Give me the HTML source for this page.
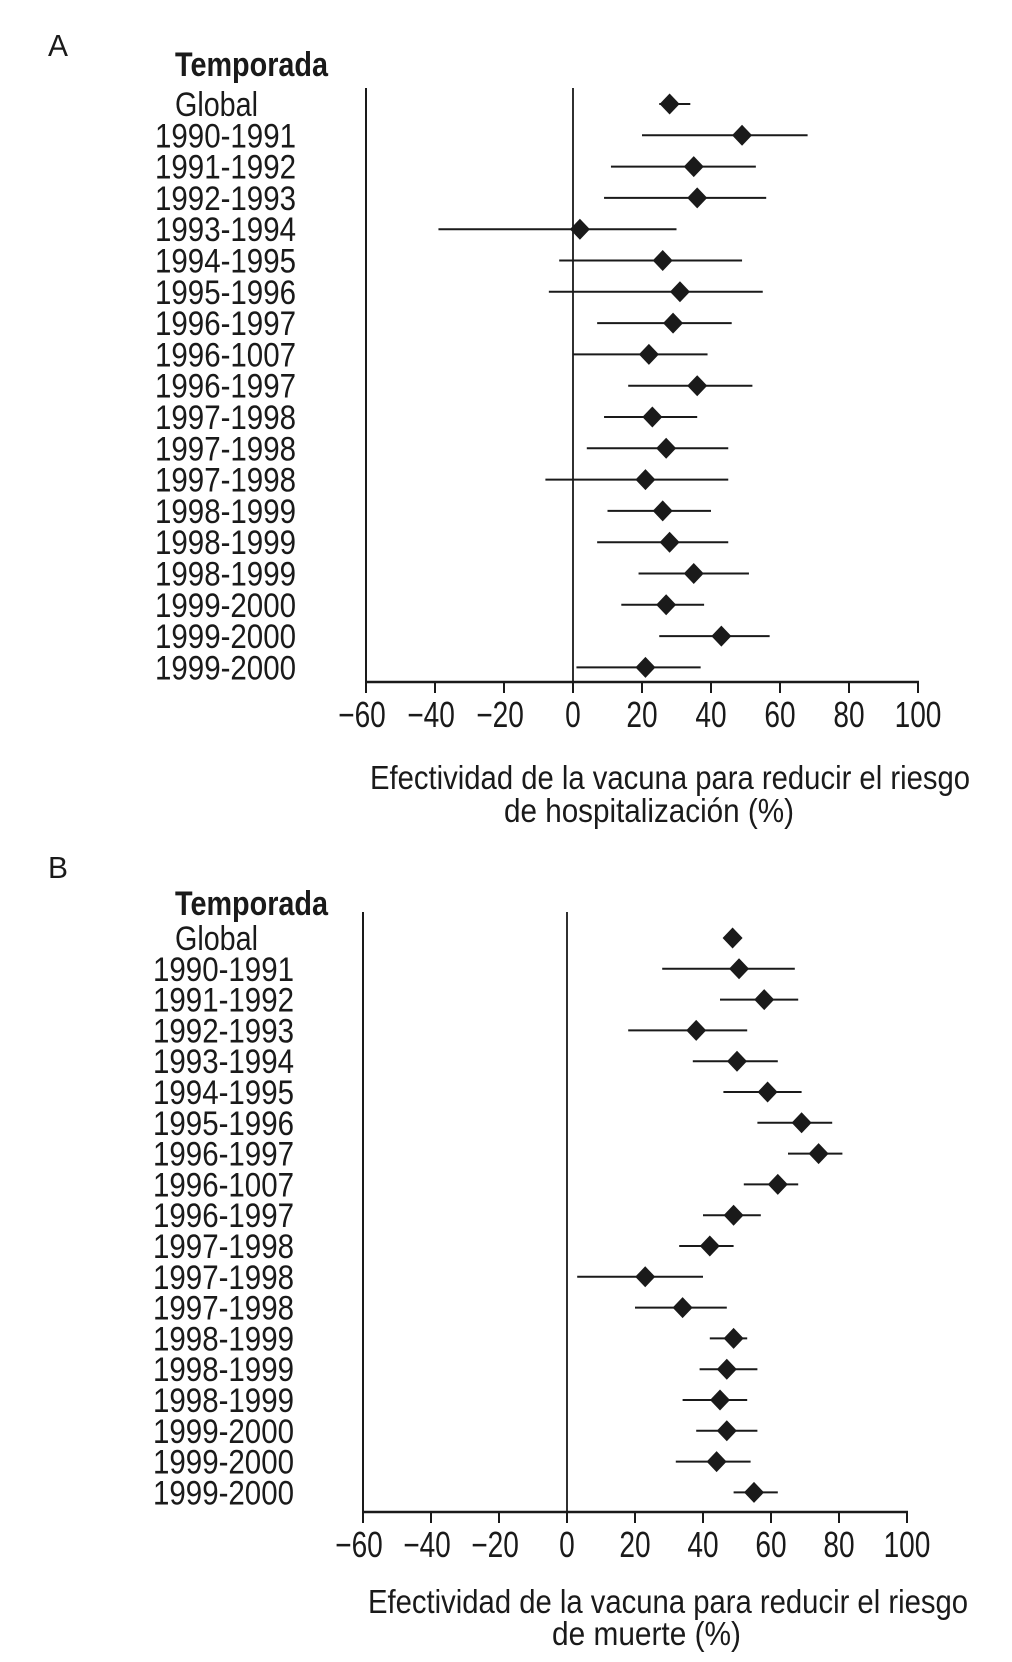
<!DOCTYPE html>
<html><head><meta charset="utf-8"><style>
html,body{margin:0;padding:0;background:#fff;}
svg{display:block;}
text{font-family:"Liberation Sans",sans-serif;fill:#1a1a1a;}
</style></head><body>
<svg id="fig" width="1012" height="1662" viewBox="0 0 1012 1662"></svg>
<script>
const labels = ["Global","1990-1991","1991-1992","1992-1993","1993-1994","1994-1995","1995-1996","1996-1997","1996-1007","1996-1997","1997-1998","1997-1998","1997-1998","1998-1999","1998-1999","1998-1999","1999-2000","1999-2000","1999-2000"];
const ticks = [-60,-40,-20,0,20,40,60,80,100];
const hospPoint = [28,49,35,36,2,26,31,29,22,36,23,27,21,26,28,35,27,43,21];
const hospLow   = [25,20,11,9,-39,-4,-7,7,0,16,9,4,-8,10,7,19,14,25,1];
const hospHigh  = [34,68,53,56,30,49,55,46,39,52,36,45,45,40,45,51,38,57,37];
const deathPoint = [48.7,50.6,58,38,50,59,69,74,62,49,42,23,34,49,47,45,47,44,55];
const deathLow   = [47,28,45,18,37,46,56,65,52,40,33,3,20,42,39,34,38,32,49];
const deathHigh  = [50,67,68,53,62,69,78,81,68,57,49,40,47,53,56,53,56,54,62];

const NS="http://www.w3.org/2000/svg";
const svg=document.getElementById('fig');
function mk(tag,attrs,parent){const e=document.createElementNS(NS,tag);for(const k in attrs)e.setAttribute(k,attrs[k]);(parent||svg).appendChild(e);return e;}

function panel(cfg){
  const g=mk('g',{});
  
  
  const X=v=>cfg.x0+cfg.k*v;
  const Y=i=>cfg.y0+cfg.dy*i;
  let t=mk('text',{x:cfg.letterX,y:cfg.letterY,'font-size':31,textLength:20,lengthAdjust:'spacingAndGlyphs'},g);t.textContent=cfg.letter;
  
  t=mk('text',{x:175,y:cfg.tempY+12,'font-size':34,'font-weight':'bold',textLength:153,lengthAdjust:'spacingAndGlyphs'},g);t.textContent='Temporada';
  
  labels.forEach((l,i)=>{
    const tt=mk('text',{y:Y(i)+12,'font-size':34,lengthAdjust:'spacingAndGlyphs'},g);
    if(i===0){tt.setAttribute('x',175);tt.setAttribute('textLength',83);}
    else{tt.setAttribute('x',cfg.labRight);tt.setAttribute('text-anchor','end');tt.setAttribute('textLength',141);}
    tt.textContent=l;
    
    
  });
  let a=mk('line',{x1:X(-60),y1:cfg.top,x2:X(-60),y2:cfg.axisY,stroke:'#1a1a1a','stroke-width':2},g);
  
  a=mk('line',{x1:X(-60)-1,y1:cfg.axisY,x2:X(100)+1,y2:cfg.axisY,stroke:'#1a1a1a','stroke-width':2.5},g);
  
  a=mk('line',{x1:X(0),y1:cfg.top,x2:X(0),y2:cfg.axisY,stroke:'#1a1a1a','stroke-width':1.8},g);
  
  ticks.forEach(v=>{
    const tl=mk('line',{x1:X(v),y1:cfg.axisY,x2:X(v),y2:cfg.axisY+11,stroke:'#1a1a1a','stroke-width':2},g);
    
    
    const cx=X(v)+(v<0?-4:0);
    const tx=mk('text',{x:cx,y:cfg.axisY+45,'font-size':36,'text-anchor':'middle',transform:`translate(${cx} 0) scale(0.78 1) translate(${-cx} 0)`},g);
    tx.textContent=(v<0?'\u2212':'')+Math.abs(v);
    
    
  });
  cfg.pts.forEach((p,i)=>{
    const y=Y(i);
    const ci=mk('line',{x1:X(cfg.lo[i]),y1:y,x2:X(cfg.hi[i]),y2:y,stroke:'#1a1a1a','stroke-width':2},g);
    
    
    const x=X(p);
    const d=mk('polygon',{points:`${x},${y-10.5} ${x+10},${y} ${x},${y+10.5} ${x-10},${y}`,fill:'#1a1a1a'},g);
    
    
  });
  t=mk('text',{x:cfg.t1x,y:cfg.t1y,'font-size':33,textLength:cfg.t1w,lengthAdjust:'spacingAndGlyphs'},g);t.textContent='Efectividad de la vacuna para reducir el riesgo';
  
  t=mk('text',{x:cfg.t2x,y:cfg.t2y,'font-size':33,textLength:cfg.t2w,lengthAdjust:'spacingAndGlyphs'},g);t.textContent=cfg.t2;
  
}

panel({name:'panel-a-hospitalization',letter:'A',letterX:48,letterY:56,tempY:64,labRight:296,
  x0:573,k:3.45,y0:104,dy:31.3,top:88,axisY:682,pts:hospPoint,lo:hospLow,hi:hospHigh,
  t1x:370,t1y:789,t1w:600,t2x:504,t2y:822,t2w:290,t2:'de hospitalización (%)'});
panel({name:'panel-b-death',letter:'B',letterX:48,letterY:878,tempY:903,labRight:294,
  x0:567,k:3.4,y0:938,dy:30.8,top:912,axisY:1512,pts:deathPoint,lo:deathLow,hi:deathHigh,
  t1x:368,t1y:1613,t1w:600,t2x:552,t2y:1645,t2w:189,t2:'de muerte (%)'});
</script>
</body></html>
